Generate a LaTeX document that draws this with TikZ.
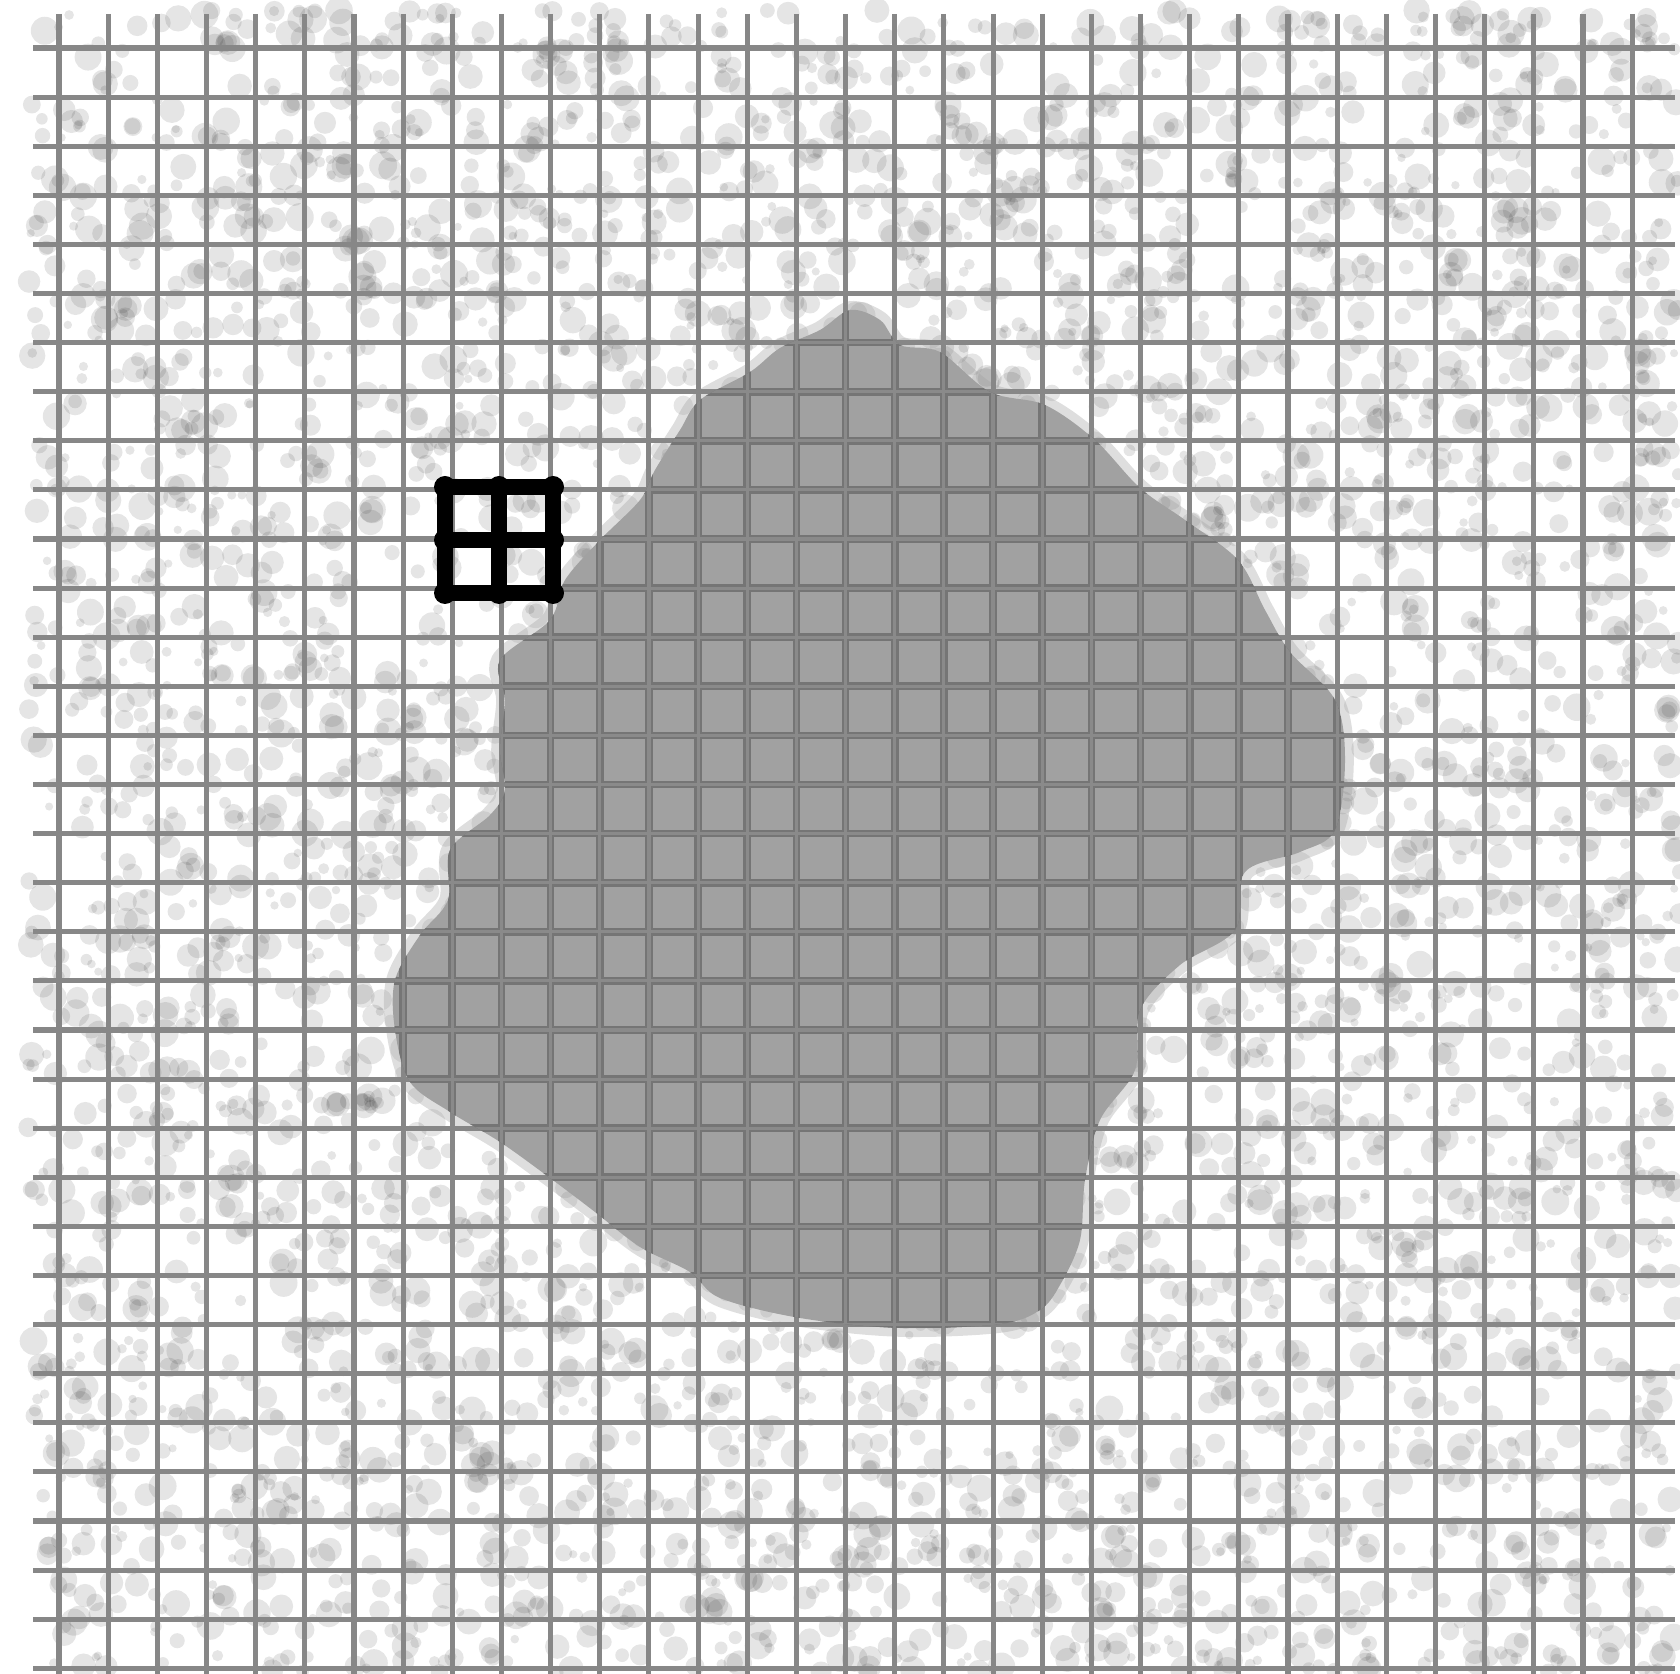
\documentclass[tikz,border=0pt]{standalone}
\usetikzlibrary{calc}

\newcommand{\blobshape}{plot[smooth cycle, tension=0.55] coordinates {
    (820,330) (850,310) (880,320) (900,345) (940,352) (990,392) (1045,405)
    (1095,440) (1140,488) (1185,520) (1238,560) (1265,610) (1290,652)
    (1335,700) (1345,760) (1335,830) (1300,852) (1245,872) (1235,930)
    (1180,965) (1140,1010) (1135,1070) (1100,1120) (1085,1180) (1080,1240)
    (1060,1285) (1040,1310) (1000,1324) (900,1328) (800,1318) (720,1298)
    (690,1272) (640,1247) (595,1212) (550,1178) (500,1142) (450,1112)
    (410,1082) (395,1030) (395,980) (420,935) (448,900) (450,850) (490,815)
    (505,790) (500,750) (505,700) (500,660) (550,620) (565,580) (600,540)
    (640,500) (655,470) (680,430) (700,400) (750,372) (780,348)}}

\begin{document}
\begin{tikzpicture}[
    x=0.01cm, y=-0.01cm,
    speck/.style={fill=black, opacity=0.1},
    blobfill/.style={fill=black!37},
    blobhalo/.style={draw=black!37, line width=5pt, opacity=0.35},
    gridline/.style={draw=black!47, line width=1.45pt},
    cellline/.style={draw=black!54, line width=2.2pt},
    cellmid/.style={draw=black!46, line width=0.9pt},
    marker/.style={draw=black, line width=4.3pt, line cap=round, line join=round}
]
    \useasboundingbox (0,0) rectangle (1680,1674);

    % speckled background
    \pgfmathsetseed{4242}
    \foreach \i in {1,...,5200}{
        \pgfmathsetmacro{\sx}{28+1652*rnd}
        \pgfmathsetmacro{\sy}{10+1664*rnd}
        \pgfmathsetmacro{\sr}{4+10*rnd}
        \fill[speck] (\sx,\sy) circle[radius=\sr];
    }

    % dark blob
    \draw[blobhalo] \blobshape;
    \fill[blobfill] \blobshape;

    % grid
    \foreach \i in {0,...,32}
        \draw[gridline] ({59+49.16*\i},14) -- ({59+49.16*\i},1674);
    \foreach \j in {0,...,33}
        \draw[gridline] (33,{48+49.1*\j}) -- (1675,{48+49.1*\j});

    % cell borders inside the blob
    \begin{scope}
        \clip \blobshape;
        \foreach \i in {0,...,32}
            \draw[cellline] ({59+49.16*\i},14) -- ({59+49.16*\i},1674);
        \foreach \j in {0,...,33}
            \draw[cellline] (33,{48+49.1*\j}) -- (1675,{48+49.1*\j});
        \foreach \i in {0,...,32}
            \draw[cellmid] ({59+49.16*\i},14) -- ({59+49.16*\i},1674);
        \foreach \j in {0,...,33}
            \draw[cellmid] (33,{48+49.1*\j}) -- (1675,{48+49.1*\j});
    \end{scope}

    % black 2x2 marker
    \draw[marker] (445,487) rectangle (553,593);
    \draw[marker] (499,487) -- (499,593);
    \draw[marker] (445,540) -- (553,540);
    \foreach \mx in {445,499,553}
        \foreach \my in {487,540,593}
            \fill (\mx,\my) circle[radius=11];
\end{tikzpicture}
\end{document}
